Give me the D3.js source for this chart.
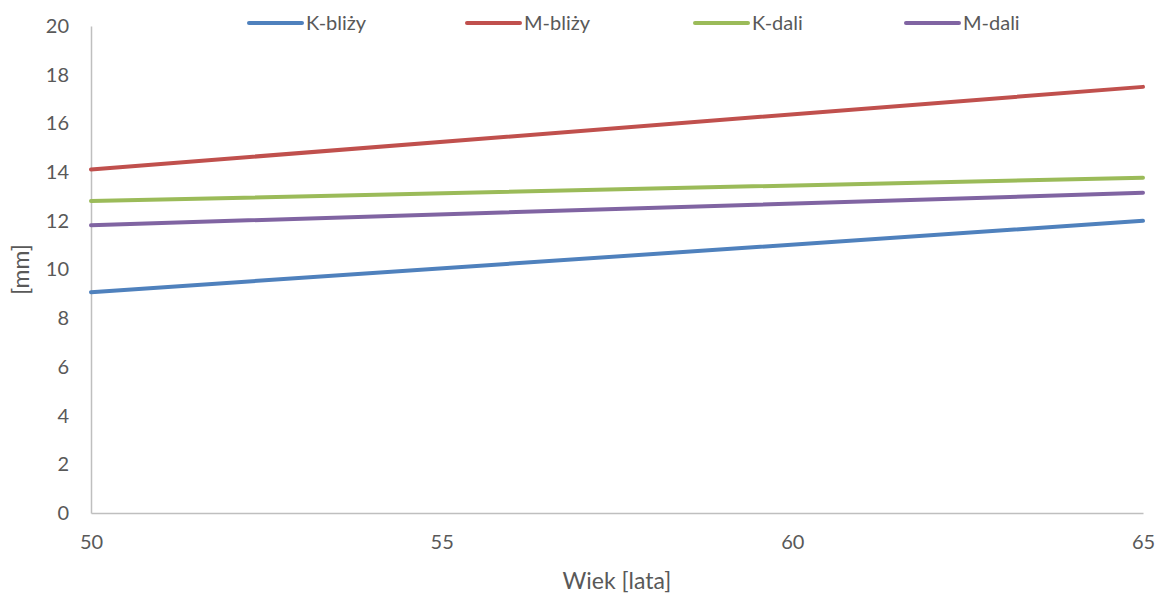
<!DOCTYPE html>
<html>
<head>
<meta charset="utf-8">
<script src="https://cdn.jsdelivr.net/npm/d3@7"></script>
<style>
  html, body { margin: 0; padding: 0; background: #fff; }
  svg text { font-family: Lato, "Open Sans", sans-serif; fill: #595959; }
</style>
</head>
<body>
<svg id="chart" width="1157" height="594"></svg>
<script>
// Age values at the ends of each trend line
const ages = [50, 65];

// Series (mm) at ages 50 and 65
const seriesNames = ["K-bliży", "M-bliży", "K-dali", "M-dali"];
const kBlizy = [9.07, 12.0];
const mBlizy = [14.11, 17.5];
const kDali = [12.81, 13.77];
const mDali = [11.82, 13.15];
const seriesColors = ["#4f81bd", "#c0504d", "#9bbb59", "#8064a2"];

// Axis ticks
const xTicks = [50, 55, 60, 65];
const yTicks = [0, 2, 4, 6, 8, 10, 12, 14, 16, 18, 20];

const xTitle = "Wiek [lata]";
const yTitle = "[mm]";

const svg = d3.select("#chart");
const margin = { left: 91, right: 14, top: 26, bottom: 81 };
const W = 1157, H = 594;

const x = d3.scaleLinear().domain([50, 65]).range([margin.left, W - margin.right]);
const y = d3.scaleLinear().domain([0, 20]).range([H - margin.bottom, margin.top]);

// Axes
const xAxis = svg.append("g")
  .attr("transform", `translate(0,${y(0)})`)
  .call(d3.axisBottom(x).tickValues(xTicks).tickSize(0).tickPadding(22).tickFormat(d3.format("d")));
const yAxis = svg.append("g")
  .attr("transform", `translate(${x(50)},0)`)
  .call(d3.axisLeft(y).tickValues(yTicks).tickSize(0).tickPadding(22).tickFormat(d3.format("d")));

[xAxis, yAxis].forEach(g => {
  g.select(".domain").attr("stroke", "#bfbfbf").attr("stroke-width", 1.5);
  g.selectAll("text").style("font-size", "20px").attr("fill", "#595959");
});

// Lines
const series = [kBlizy, mBlizy, kDali, mDali];
const line = d3.line().x((d, i) => x(ages[i])).y(d => y(d));
series.forEach((vals, i) => {
  svg.append("path")
    .datum(vals)
    .attr("d", line)
    .attr("fill", "none")
    .attr("stroke", seriesColors[i])
    .attr("stroke-width", 4)
    .attr("stroke-linecap", "round");
});

// Legend
const legendX = [249, 467, 695, 906];
const legend = svg.append("g");
seriesNames.forEach((name, i) => {
  const g = legend.append("g").attr("transform", `translate(${legendX[i]},23)`);
  g.append("line").attr("x1", 0).attr("x2", 53).attr("y1", 0).attr("y2", 0)
    .attr("stroke", seriesColors[i]).attr("stroke-width", 4).attr("stroke-linecap", "round");
  g.append("text").attr("x", 57).attr("y", 0).attr("dy", "0.35em")
    .style("font-size", "20px").text(name);
});

// Axis titles
svg.append("text")
  .attr("x", (x(50) + x(65)) / 2).attr("y", 581)
  .attr("text-anchor", "middle").attr("dy", "0.35em")
  .style("font-size", "23px").text(xTitle);
svg.append("text")
  .attr("transform", `translate(21,${(y(0) + y(20)) / 2}) rotate(-90)`)
  .attr("text-anchor", "middle").attr("dy", "0.35em")
  .style("font-size", "23px").text(yTitle);
</script>
</body>
</html>
